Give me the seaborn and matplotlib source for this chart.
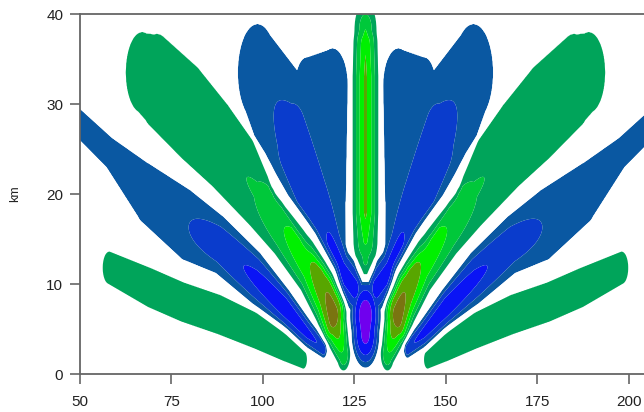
import numpy as np
import matplotlib
matplotlib.use("Agg")
import matplotlib.pyplot as plt
import seaborn as sns

# Wave field is symmetric about x = 128; every lobe is described on the
# right-hand side by its ridge line (u = x - 128, y in km), the half-width of
# its outermost contour and the peak value along the ridge.
x_axis = 128.0

column_u = [0.0, 0.0, 0.0, 0.0, 0.0, 0.0]
column_y = [12.8, 15.0, 18.0, 33.0, 36.5, 38.3]
column_h = [2.4, 3.3, 3.5, 3.5, 3.3, 3.0]
column_a = [2.3, 3.3, 4.25, 4.25, 3.9, 3.0]

base_u = [0.0, 0.0, 0.0, 0.0]
base_y = [2.8, 4.5, 6.5, 7.2]
base_h = [1.9, 3.8, 4.2, 3.4]
base_a = [-2.5, -4.3, -4.6, -4.2]

inner_neg_u = [3.0, 6.5, 9.0, 13.5, 20.0, 29.5]
inner_neg_y = [9.5, 11.5, 14.0, 19.0, 26.0, 33.5]
inner_neg_h = [2.6, 2.6, 3.2, 5.5, 7.6, 5.4]
inner_neg_a = [-3.4, -3.4, -3.2, -2.6, -2.4, -1.6]

strip_neg_u = [7.5, 9.5, 9.0, 16.0]
strip_neg_y = [12.0, 20.0, 32.0, 32.0]
strip_neg_h = [2.2, 4.2, 4.2, 3.2]
strip_neg_a = [-1.6, -1.6, -1.5, -1.5]

inner_pos_u = [6.0, 8.8, 10.8, 15.5, 23.0, 30.0, 40.0, 48.0, 57.0, 61.0]
inner_pos_y = [2.2, 6.5, 9.0, 12.5, 16.5, 20.5, 25.5, 29.0, 32.5, 33.5]
inner_pos_h = [1.8, 3.6, 4.0, 3.8, 3.6, 4.3, 5.0, 5.5, 5.3, 4.5]
inner_pos_a = [2.8, 5.6, 5.0, 3.9, 2.9, 2.05, 1.85, 1.75, 1.7, 1.6]

outer_neg_u = [11.5, 16.0, 22.0, 30.0, 40.0, 49.0, 60.0, 70.0, 80.0]
outer_neg_y = [2.8, 4.6, 7.4, 10.7, 14.4, 16.6, 20.1, 24.6, 28.5]
outer_neg_h = [1.0, 1.6, 2.2, 3.0, 3.3, 4.0, 3.4, 1.8, 1.6]
outer_neg_a = [-2.8, -3.3, -3.6, -3.2, -2.6, -1.95, -1.7, -1.5, -1.4]

outer_pos_u = [17.0, 22.0, 30.0, 40.0, 50.0, 59.0, 70.0]
outer_pos_y = [1.6, 3.0, 4.8, 6.6, 8.0, 9.6, 11.8]
outer_pos_h = [1.0, 1.6, 2.0, 2.2, 2.2, 2.2, 1.8]
outer_pos_a = [1.8, 1.8, 1.8, 1.8, 1.8, 1.8, 1.8]

lobes = [
    (column_u, column_y, column_h, column_a),
    (base_u, base_y, base_h, base_a),
    (inner_neg_u, inner_neg_y, inner_neg_h, inner_neg_a),
    (strip_neg_u, strip_neg_y, strip_neg_h, strip_neg_a),
    (inner_pos_u, inner_pos_y, inner_pos_h, inner_pos_a),
    (outer_neg_u, outer_neg_y, outer_neg_h, outer_neg_a),
    (outer_pos_u, outer_pos_y, outer_pos_h, outer_pos_a),
]
# cross-section exponent inside each lobe's rim (same order as above)
lobe_shape = [1.2, 2.0, 2.0, 2.0, 2.0, 2.0, 2.0]

levels = [-100, -4, -3, -2, -1, 1, 2, 3, 4, 5, 100]
fill_colors = ["#7000ee", "#0a14f5", "#0a3ccc", "#0a58a2", "#ffffff",
               "#00a45a", "#00c83a", "#00f000", "#58a600", "#7a7410"]

EDGE = 0.7     # distance over which a lobe fades from 1 to 0 outside its rim


def lobe_strength(U, Y, u, y, h, a, shape):
    u, y, h, a = (np.asarray(v, float) for v in (u, y, h, a))
    amp = np.abs(a)
    best = np.zeros_like(U)
    for i in range(len(u) - 1):
        j = i + 1
        dx, dy = u[j] - u[i], y[j] - y[i]
        t = np.clip(((U - u[i]) * dx + (Y - y[i]) * dy) / (dx * dx + dy * dy),
                    0.0, 1.0)
        dist = np.hypot(U - (u[i] + t * dx), Y - (y[i] + t * dy))
        ht = h[i] + t * (h[j] - h[i])
        at = amp[i] + t * (amp[j] - amp[i])
        r = dist / ht
        inside = 1.0 + (at - 1.0) * (1.0 - np.clip(r, 0, 1) ** shape)
        outside = np.clip(1.0 - (dist - ht) / EDGE, 0.0, 1.0)
        best = np.maximum(best, np.where(r < 1.0, inside, outside))
    return best


xs = np.linspace(50, 205, 1241)
ys = np.linspace(0, 41, 411)
X, Y = np.meshgrid(xs, ys)
U = np.abs(X - x_axis)

positive = np.zeros_like(X)
negative = np.zeros_like(X)
for lobe, shape in zip(lobes, lobe_shape):
    s = lobe_strength(U, Y, *lobe, shape)
    if lobe[3][0] > 0:
        positive = np.maximum(positive, s)
    else:
        negative = np.maximum(negative, s)
field = positive - negative

sns.set_theme(style="ticks")
plt.rcParams["font.family"] = ["Liberation Sans", "DejaVu Sans"]

fig = plt.figure(figsize=(6.44, 4.12), dpi=100)
ax = fig.add_axes([80 / 644, 1 - 374 / 412, 1 - 80 / 644, 360 / 412])
ax.contourf(X, Y, field, levels=levels, colors=fill_colors, antialiased=True)

ax.set_xlim(50, 204.1)
ax.set_ylim(0, 40)
ax.set_xticks([50, 75, 100, 125, 150, 175, 200])
ax.set_yticks([0, 10, 20, 30, 40])
ax.set_ylabel("km", fontsize=9, labelpad=18, color="#222222")
ax.tick_params(axis="both", direction="out", length=7, width=1.2,
               color="#666666", labelsize=11, labelcolor="#222222")
ax.tick_params(axis="x", pad=8)
ax.tick_params(axis="y", pad=5)
for side in ("left", "bottom", "top"):
    ax.spines[side].set_color("#666666")
    ax.spines[side].set_linewidth(1.3)
ax.spines["right"].set_visible(False)

fig.savefig("out.png", dpi=100)
